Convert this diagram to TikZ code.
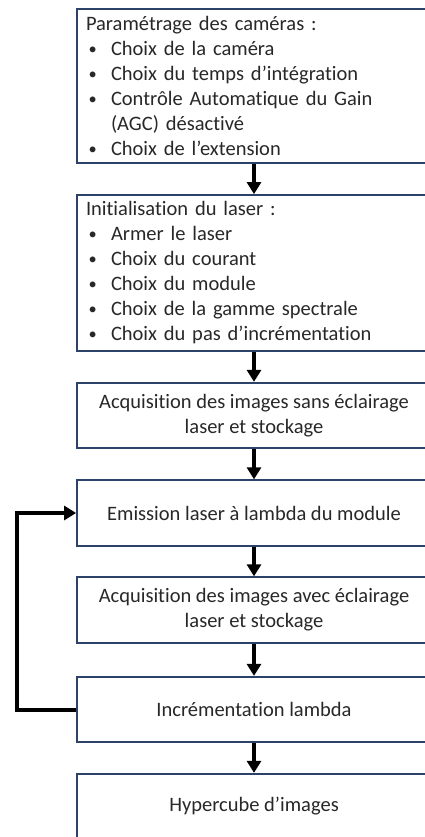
\documentclass[tikz,border=0pt]{standalone}
\usepackage{fontspec}
\setmainfont[Ligatures=NoCommon]{Carlito}
\usetikzlibrary{arrows.meta}
\definecolor{boxcol}{RGB}{44,66,104}
\definecolor{txtcol}{RGB}{40,40,40}
\newcommand\bul{\makebox[25pt][l]{\hspace{2.5pt}\raisebox{1pt}{\scalebox{0.8}{•}}}}
\tikzset{
  stepbox/.style={draw=boxcol, line width=1.8pt, fill=white, text=txtcol,
    minimum width=354pt, inner xsep=9pt, inner ysep=0pt,
    font=\fontsize{20.5}{25}\selectfont},
  listbox/.style={stepbox, align=left, text width=336pt},
  simplebox/.style={stepbox, align=center, minimum height=65.5pt},
  flow/.style={line width=3.6pt, -{Triangle[width=14pt,length=12pt]}},
}
\begin{document}
\begin{tikzpicture}[x=1pt,y=1pt]
\useasboundingbox (0,0) rectangle (425,-837);
\clip (0,0) rectangle (425,-837);
\node[listbox, minimum height=154pt] (b1) at (254,-86) {Paramétrage des caméras :\\
\bul Choix de la caméra\\
\bul Choix du temps d’intégration\\
\bul Contrôle Automatique du Gain\\
\hspace*{25pt}(AGC) désactivé\\
\bul Choix de l’extension};
\node[listbox, minimum height=156pt] (b2) at (254,-273) {Initialisation du laser :\\
\bul Armer le laser\\
\bul Choix du courant\\
\bul Choix du module\\
\bul Choix de la gamme spectrale\\
\bul Choix du pas d’incrémentation};
\node[simplebox] (b3) at (254,-415.5) {Acquisition des images sans éclairage\\laser et stockage};
\node[simplebox] (b4) at (254,-513) {Emission laser à lambda du module};
\node[simplebox] (b5) at (254,-610) {Acquisition des images avec éclairage\\laser et stockage};
\node[simplebox] (b6) at (254,-709.5) {Incrémentation lambda};
\node[simplebox] (b7) at (254,-806.5) {Hypercube d’images};
\draw[flow] (b1) -- (b2);
\draw[flow] (b2) -- (b3);
\draw[flow] (b3) -- (b4);
\draw[flow] (b4) -- (b5);
\draw[flow] (b5) -- (b6);
\draw[flow] (b6) -- (b7);
\draw[flow, line width=4pt] (b6.west) -- ++(-59.5,0) |- (b4.west);
\end{tikzpicture}
\end{document}
